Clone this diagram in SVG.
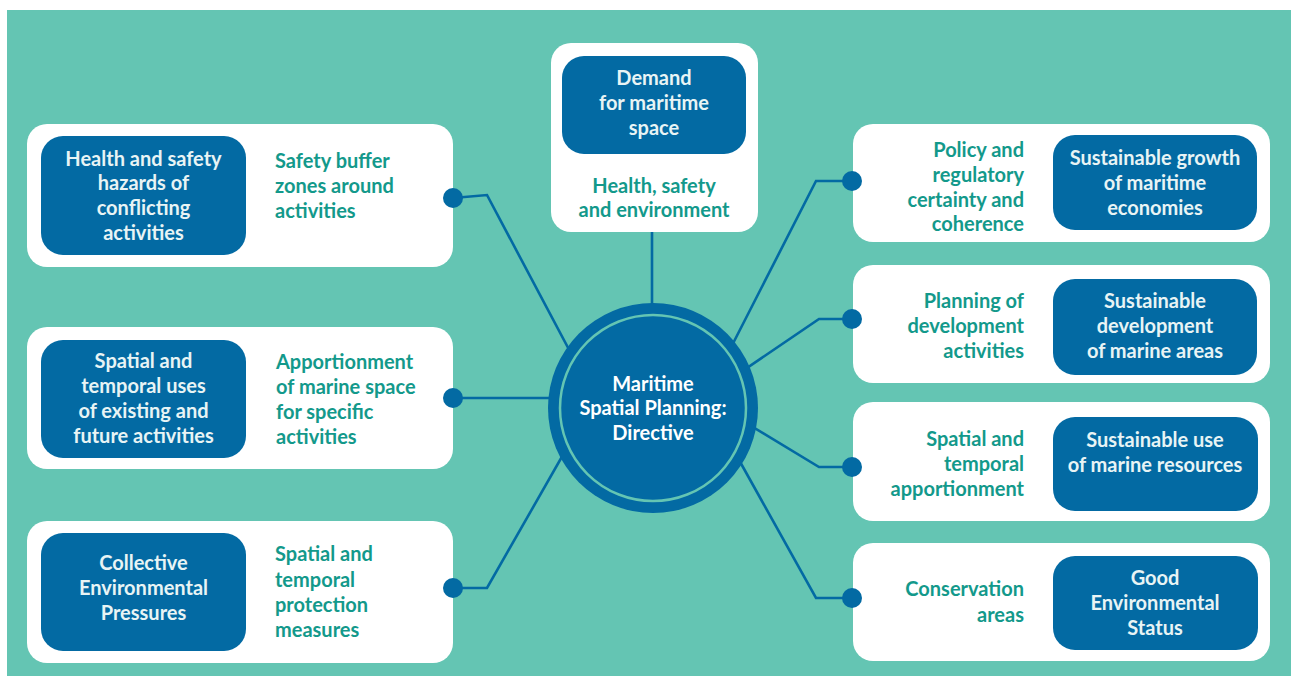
<svg xmlns="http://www.w3.org/2000/svg" width="1291" height="676" viewBox="0 0 1291 676">
<style>
.card{fill:#ffffff}
.blue{fill:#036AA3}
.wt{font-family:Lato,"Liberation Sans",sans-serif;font-weight:bold;font-size:20px;fill:#E8F4F5;text-anchor:middle}
.gt{font-family:Lato,"Liberation Sans",sans-serif;font-weight:bold;font-size:20px;fill:#13998B}
.gl{text-anchor:start}
.gr{text-anchor:end}
.gm{text-anchor:middle}
.conn{fill:none;stroke:#036AA3;stroke-width:2.6}
.dot{fill:#036AA3}
</style>
<rect x="0" y="0" width="1291" height="676" fill="#ffffff"/>
<rect x="7" y="10" width="1284" height="666" fill="#64C5B3"/>

<g id="connectors">
<polyline class="conn" points="453,198 487,195 600,408"/>
<polyline class="conn" points="453,398 600,398"/>
<polyline class="conn" points="453,588 487,588 600,390"/>
<line class="conn" x1="652" y1="230" x2="652" y2="330"/>
<polyline class="conn" points="852,181 816,181 700,408"/>
<polyline class="conn" points="852,319 819,319 700,400"/>
<polyline class="conn" points="852,467 819,467 700,395"/>
<polyline class="conn" points="852,598 816,598 700,390"/>
</g>

<g id="center">
<circle cx="653" cy="408" r="105" fill="#036AA3"/>
<circle cx="653" cy="408" r="93" fill="none" stroke="#64C5B3" stroke-width="2.5"/>
<text class="wt" style="fill:#ffffff"><tspan x="653" y="391">Maritime</tspan><tspan x="653" y="415">Spatial Planning:</tspan><tspan x="653" y="440">Directive</tspan></text>
</g>

<g id="top">
<rect class="card" x="551" y="43" width="207" height="189" rx="20"/>
<rect class="blue" x="562" y="56" width="184" height="98" rx="22"/>
<text class="wt"><tspan x="654" y="85">Demand</tspan><tspan x="654" y="110">for maritime</tspan><tspan x="654" y="135">space</tspan></text>
<text class="gt gm"><tspan x="654" y="193">Health, safety</tspan><tspan x="654" y="217">and environment</tspan></text>
</g>

<g id="left1">
<rect class="card" x="27" y="124" width="426" height="143" rx="20"/>
<rect class="blue" x="41" y="136" width="205" height="119" rx="22"/>
<text class="wt"><tspan x="143.5" y="166">Health and safety</tspan><tspan x="143.5" y="190">hazards of</tspan><tspan x="143.5" y="215">conflicting</tspan><tspan x="143.5" y="240">activities</tspan></text>
<text class="gt gl"><tspan x="275" y="168">Safety buffer</tspan><tspan x="275" y="193">zones around</tspan><tspan x="275" y="218">activities</tspan></text>
<circle class="dot" cx="453" cy="198" r="10"/>
</g>

<g id="left2">
<rect class="card" x="27" y="327" width="426" height="142" rx="20"/>
<rect class="blue" x="41" y="340" width="205" height="118" rx="22"/>
<text class="wt"><tspan x="143.5" y="368">Spatial and</tspan><tspan x="143.5" y="393">temporal uses</tspan><tspan x="143.5" y="418">of existing and</tspan><tspan x="143.5" y="443">future activities</tspan></text>
<text class="gt gl"><tspan x="276" y="369">Apportionment</tspan><tspan x="276" y="394">of marine space</tspan><tspan x="276" y="419">for specific</tspan><tspan x="276" y="444">activities</tspan></text>
<circle class="dot" cx="453" cy="398" r="10"/>
</g>

<g id="left3">
<rect class="card" x="27" y="521" width="426" height="142" rx="20"/>
<rect class="blue" x="41" y="533" width="205" height="118" rx="22"/>
<text class="wt"><tspan x="143.5" y="570">Collective</tspan><tspan x="143.5" y="595">Environmental</tspan><tspan x="143.5" y="620">Pressures</tspan></text>
<text class="gt gl"><tspan x="275" y="561">Spatial and</tspan><tspan x="275" y="587">temporal</tspan><tspan x="275" y="612">protection</tspan><tspan x="275" y="637">measures</tspan></text>
<circle class="dot" cx="453" cy="588" r="10"/>
</g>

<g id="right1">
<rect class="card" x="853" y="124" width="417" height="118" rx="20"/>
<rect class="blue" x="1053" y="135" width="204" height="95" rx="22"/>
<text class="wt"><tspan x="1155" y="165">Sustainable growth</tspan><tspan x="1155" y="190">of maritime</tspan><tspan x="1155" y="215">economies</tspan></text>
<text class="gt gr"><tspan x="1024" y="157">Policy and</tspan><tspan x="1024" y="182">regulatory</tspan><tspan x="1024" y="207">certainty and</tspan><tspan x="1024" y="231">coherence</tspan></text>
<circle class="dot" cx="852" cy="181" r="10"/>
</g>

<g id="right2">
<rect class="card" x="853" y="265" width="417" height="118" rx="20"/>
<rect class="blue" x="1053" y="279" width="204" height="96" rx="22"/>
<text class="wt"><tspan x="1155" y="308">Sustainable</tspan><tspan x="1155" y="333">development</tspan><tspan x="1155" y="358">of marine areas</tspan></text>
<text class="gt gr"><tspan x="1024" y="308">Planning of</tspan><tspan x="1024" y="333">development</tspan><tspan x="1024" y="358">activities</tspan></text>
<circle class="dot" cx="852" cy="319" r="10"/>
</g>

<g id="right3">
<rect class="card" x="853" y="402" width="417" height="119" rx="20"/>
<rect class="blue" x="1053" y="417" width="205" height="94" rx="22"/>
<text class="wt"><tspan x="1155" y="447">Sustainable use</tspan><tspan x="1155" y="472">of marine resources</tspan></text>
<text class="gt gr"><tspan x="1024" y="446">Spatial and</tspan><tspan x="1024" y="471">temporal</tspan><tspan x="1024" y="496">apportionment</tspan></text>
<circle class="dot" cx="852" cy="467" r="10"/>
</g>

<g id="right4">
<rect class="card" x="853" y="543" width="417" height="118" rx="20"/>
<rect class="blue" x="1053" y="556" width="205" height="94" rx="22"/>
<text class="wt"><tspan x="1155" y="585">Good</tspan><tspan x="1155" y="610">Environmental</tspan><tspan x="1155" y="635">Status</tspan></text>
<text class="gt gr"><tspan x="1024" y="596">Conservation</tspan><tspan x="1024" y="622">areas</tspan></text>
<circle class="dot" cx="852" cy="598" r="10"/>
</g>
</svg>
